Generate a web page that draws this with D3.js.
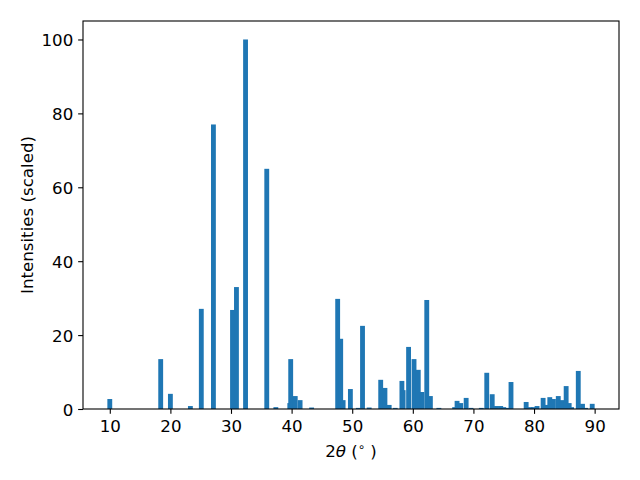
<!DOCTYPE html>
<html>
<head>
<meta charset="utf-8">
<script src="https://cdn.jsdelivr.net/npm/d3@7"></script>
<style>
html,body{margin:0;padding:0;background:#fff;}
svg{display:block;font-family:"DejaVu Sans",sans-serif;}
</style>
</head>
<body>
<svg id="chart" width="640" height="480"></svg>
<script>
// 2θ positions (degrees)
const twoTheta = [10.0,18.4,20.0,23.3,25.1,27.1,30.25,30.9,32.4,35.9,37.4,39.7,39.85,40.6,41.4,43.3,
  47.6,48.1,48.5,49.7,51.0,51.7,52.8,54.7,55.4,56.1,57.1,58.2,58.4,59.3,60.2,60.9,61.5,62.3,62.9,64.3,
  66.9,67.3,67.9,68.8,69.6,71.3,72.2,73.1,73.8,74.5,75.0,75.6,76.2,78.7,79.4,79.9,80.5,81.5,82.0,82.6,
  83.2,84.0,84.6,85.3,85.8,86.2,87.3,88.0,88.5,89.6];
// scaled intensities
const intensity = [2.7,13.5,4.1,0.8,27.1,77.0,26.8,33.0,100,65.0,0.5,1.6,13.5,3.5,2.4,0.4,
  29.8,19.0,2.4,5.4,0.3,22.5,0.4,7.9,5.7,1.1,0.3,7.6,5.1,16.8,13.5,10.6,4.6,29.5,3.5,0.3,
  0.5,2.2,1.6,3.0,0.3,0.3,9.8,4.0,0.8,0.8,0.5,0.3,7.3,1.9,0.5,0.5,0.8,3.0,1.1,3.2,
  2.7,3.5,2.4,6.2,1.6,0.5,10.3,1.4,0.3,1.4];
const xTicks = [10,20,30,40,50,60,70,80,90];
const yTicks = [0,20,40,60,80,100];
const barWidth = 0.8;

const data = twoTheta.map((t,i)=>({t, v:intensity[i]}));
const L=83, R=619, T=21, B=409;
const lo = d3.min(twoTheta) - barWidth/2, hi = d3.max(twoTheta) + barWidth/2;
const pad = (hi-lo)*0.05;
const x = d3.scaleLinear().domain([lo-pad, hi+pad]).range([L,R]);
const y = d3.scaleLinear().domain([0, d3.max(intensity)*1.05]).range([B,T]);

const svg = d3.select("#chart");
svg.append("g").selectAll("rect").data(data).join("rect")
  .attr("x", d=>x(d.t-barWidth/2))
  .attr("width", d=>x(d.t+barWidth/2)-x(d.t-barWidth/2))
  .attr("y", d=>y(d.v))
  .attr("height", d=>y(0)-y(d.v))
  .attr("fill","#1f77b4");

const fs = "16.67px";
const tk = 4.86;
const gx = svg.append("g").attr("transform",`translate(0,${B})`)
  .call(d3.axisBottom(x).tickValues(xTicks).tickSize(tk).tickPadding(4.9).tickFormat(d3.format("d")));
const gy = svg.append("g").attr("transform",`translate(${L},0)`)
  .call(d3.axisLeft(y).tickValues(yTicks).tickSize(tk).tickPadding(4.9).tickFormat(d3.format("d")));
[gx,gy].forEach(g=>{
  g.select(".domain").remove();
  g.selectAll(".tick line").attr("stroke","#000").attr("stroke-width",1.1);
  g.selectAll(".tick text").attr("fill","#000").style("font-size",fs).style("font-family","DejaVu Sans");
});
gx.selectAll(".tick text").attr("dy","0.8em");
gy.selectAll(".tick text").attr("dy","0.38em");

// spines
svg.append("rect").attr("x",L).attr("y",T).attr("width",R-L).attr("height",B-T)
  .attr("fill","none").attr("stroke","#000").attr("stroke-width",1.1);

// axis labels
const xl = svg.append("text").attr("x",(L+R)/2).attr("y",457).attr("text-anchor","middle")
  .style("font-size",fs).attr("fill","#000");
xl.append("tspan").text("2");
xl.append("tspan").style("font-style","italic").text("θ");
xl.append("tspan").text(" (");
xl.append("tspan").attr("dy",-6).style("font-size","11.7px").text("∘");
xl.append("tspan").attr("dy",6).text(" )");

svg.append("text").attr("transform",`translate(33,${(T+B)/2}) rotate(-90)`)
  .attr("text-anchor","middle").style("font-size",fs).attr("fill","#000")
  .text("Intensities (scaled)");
</script>
</body>
</html>
